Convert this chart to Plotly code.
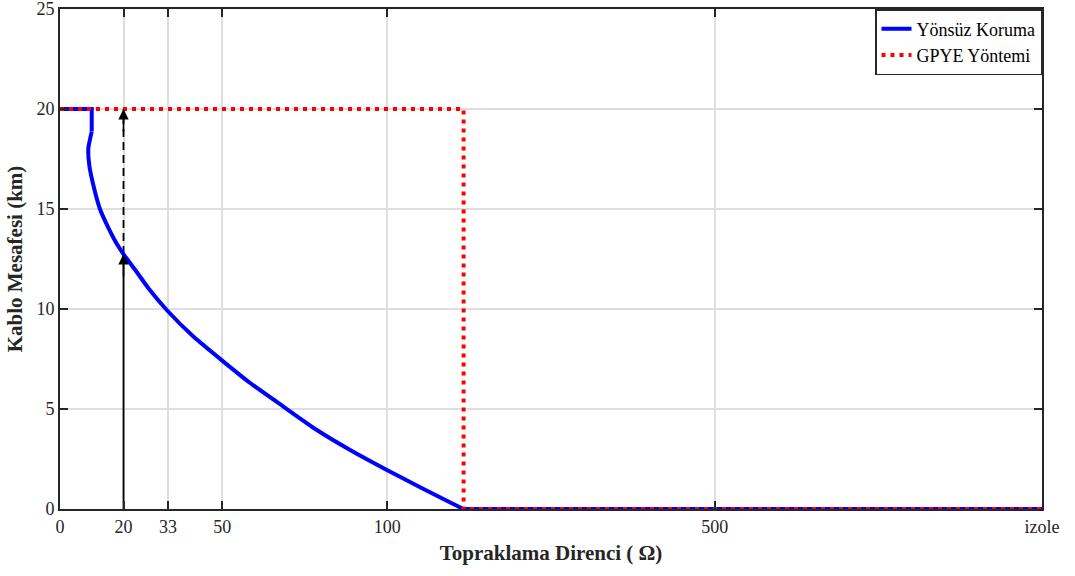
import plotly.graph_objects as go

# x positions are on a piecewise axis: 0..100 -> 0..100 (Ω), 100 -> 500 Ω at 200, 300 = "izole"
tick_vals = [0, 19.4, 33, 49.6, 100, 200, 300]
tick_text = ["0", "20", "33", "50", "100", "500", "izole"]

# straight parts of the blue curve (top stub and bottom run)
blue_flat_x = [0, 9.69, 9.69, None, 123.2, 300]
blue_flat_y = [20, 20, 18.87, None, 0, 0]
# curved part of the blue curve
blue_x = [9.69, 8.65, 9.0, 10.4, 12.2, 14.6, 17.2, 19.5, 23.0, 27.2,
          32.61, 40.74, 49.92, 58.08, 68.25, 78.46, 88.64, 99.86, 111.05, 123.2]
blue_y = [18.87, 18.03, 17.12, 16.05, 15.0, 14.12, 13.3, 12.72, 11.95, 11.0,
          9.95, 8.62, 7.37, 6.30, 5.12, 3.95, 2.95, 1.95, 1.0, 0]

red_x = [0, 123.3, 123.3, 300]
red_y = [20, 20, 0, 0]

arrow_x = 19.4
arrow_mid = 12.75
arrow_top = 20

font = "Liberation Serif"
axcol = "#262626"

fig = go.Figure()
fig.add_trace(go.Scatter(x=[arrow_x, arrow_x], y=[0, arrow_mid], mode="lines",
                         line=dict(color="black", width=1.8), showlegend=False, hoverinfo="skip"))
fig.add_trace(go.Scatter(x=[arrow_x, arrow_x], y=[arrow_mid, arrow_top], mode="lines",
                         line=dict(color="black", width=1.8, dash="8px,5px"), showlegend=False, hoverinfo="skip"))
fig.add_trace(go.Scatter(x=blue_flat_x, y=blue_flat_y, mode="lines", name="Yönsüz Koruma",
                         legendgroup="b", line=dict(color="#0000ff", width=4), connectgaps=False))
fig.add_trace(go.Scatter(x=blue_x, y=blue_y, mode="lines", name="Yönsüz Koruma", showlegend=False,
                         legendgroup="b", line=dict(color="#0000ff", width=4, shape="spline", smoothing=0.5)))
fig.add_trace(go.Scatter(x=red_x, y=red_y, mode="lines", name="GPYE Yöntemi",
                         line=dict(color="#ff0000", width=4, dash="4px,5px")))

for yy in [arrow_mid, arrow_top]:
    fig.add_annotation(x=arrow_x, y=yy, ax=arrow_x, ay=yy - 1.2, xref="x", yref="y",
                       axref="x", ayref="y", showarrow=True, arrowhead=2, arrowsize=1.3,
                       arrowwidth=1.6, arrowcolor="black", text="")

fig.update_layout(
    width=1075, height=576,
    margin=dict(l=60, r=33, t=9, b=67, autoexpand=False),
    plot_bgcolor="white", paper_bgcolor="white",
    font=dict(family=font, size=18, color=axcol),
    legend=dict(x=1, y=1, xanchor="right", yanchor="top", bgcolor="white",
                bordercolor=axcol, borderwidth=1.5, font=dict(family=font, size=18, color="black"),
                tracegroupgap=0, itemwidth=30),
)
fig.update_xaxes(range=[0, 300], tickvals=tick_vals, ticktext=tick_text, automargin=False,
                 showgrid=True, gridcolor="#dedede", gridwidth=2,
                 showline=True, linecolor=axcol, linewidth=2, mirror="ticks",
                 ticks="inside", ticklen=8, tickwidth=2, tickcolor=axcol,
                 zeroline=False,
                 tickfont=dict(family=font, size=18, color=axcol),
                 title=dict(text="<b>Topraklama Direnci ( Ω)</b>", font=dict(family=font, size=21, color=axcol), standoff=10))
fig.update_yaxes(range=[0, 25], tickvals=[0, 5, 10, 15, 20, 25], automargin=False,
                 showgrid=True, gridcolor="#dedede", gridwidth=2,
                 showline=True, linecolor=axcol, linewidth=2, mirror="ticks",
                 ticks="inside", ticklen=8, tickwidth=2, tickcolor=axcol,
                 zeroline=False, ticklabeloverflow="allow",
                 tickfont=dict(family=font, size=18, color=axcol),
                 title=dict(text="<b>Kablo Mesafesi (km)</b>", font=dict(family=font, size=21, color=axcol), standoff=8))

fig.write_html("out.html", config={"displayModeBar": False},
               post_script="document.body.style.margin='0px';")
